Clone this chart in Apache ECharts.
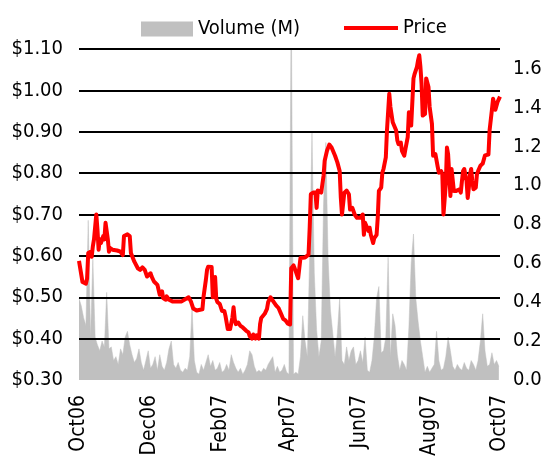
<!DOCTYPE html>
<html>
<head>
<meta charset="utf-8">
<script src="https://cdn.jsdelivr.net/npm/echarts@6/dist/echarts.min.js"></script>
<style>
html,body{margin:0;padding:0;background:#fff;}
#chart{width:548px;height:457px;}
</style>
</head>
<body>
<div id="chart"></div>
<script>
// x axis: days since 1 Oct 2006
var tickDays=[0,61,123,182,243,304,365];
var tickLabels=['Oct06','Dec06','Feb07','Apr07','Jun07','Aug07','Oct07'];

// price [day, $]
var priceSeries=[
    [0,0.588],[3,0.537],[6,0.533],[7,0.545],[8,0.607],[10,0.61],[11,0.598],[12,0.623],[13,0.64],[15,0.70],
    [16,0.664],[17,0.615],[18,0.64],[19,0.631],[21,0.648],[22,0.64],[23,0.68],[25,0.64],[26,0.61],[27,0.619],
    [29,0.615],[33,0.613],[36,0.61],[38,0.602],[39,0.648],[42,0.652],[44,0.648],[45,0.607],[48,0.586],[51,0.57],
    [53,0.566],[55,0.572],[57,0.566],[59,0.55],[60,0.546],[62,0.558],[63,0.55],[65,0.538],[66,0.542],[68,0.53],
    [69,0.526],[70,0.506],[72,0.514],[73,0.498],[75,0.494],[76,0.502],[78,0.494],[81,0.49],[89,0.49],[95,0.50],
    [97,0.49],[99,0.473],[102,0.468],[107,0.471],[108,0.502],[110,0.542],[111,0.566],[112,0.574],[115,0.573],[116,0.50],
    [118,0.549],[119,0.496],[120,0.488],[122,0.484],[124,0.467],[126,0.467],[127,0.455],[129,0.423],[131,0.423],[133,0.451],
    [134,0.476],[135,0.447],[136,0.435],[138,0.439],[140,0.431],[142,0.427],[145,0.419],[147,0.415],[148,0.406],[150,0.40],
    [151,0.41],[153,0.40],[154,0.408],[156,0.40],[157,0.435],[158,0.45],[161,0.46],[163,0.472],[164,0.488],[166,0.50],
    [167,0.50],[168,0.492],[171,0.48],[173,0.474],[175,0.461],[177,0.448],[179,0.444],[181,0.436],[183,0.434],[184,0.57],
    [186,0.577],[187,0.57],[188,0.562],[190,0.546],[192,0.595],[196,0.596],[199,0.603],[200,0.668],[201,0.749],[203,0.753],
    [204,0.749],[205,0.753],[206,0.716],[207,0.758],[210,0.753],[212,0.793],[213,0.83],[215,0.854],[217,0.869],[219,0.862],
    [222,0.842],[224,0.826],[226,0.805],[227,0.74],[228,0.70],[230,0.752],[232,0.758],[234,0.749],[235,0.712],[237,0.716],
    [238,0.72],[239,0.70],[241,0.692],[242,0.696],[244,0.692],[246,0.70],[247,0.651],[248,0.68],[249,0.68],[251,0.66],
    [252,0.668],[253,0.651],[255,0.631],[256,0.643],[258,0.651],[259,0.692],[260,0.757],[262,0.765],[263,0.801],[264,0.81],
    [266,0.838],[267,0.903],[269,0.992],[270,0.96],[272,0.923],[273,0.919],[275,0.903],[276,0.879],[277,0.87],[279,0.874],
    [280,0.854],[282,0.842],[283,0.858],[285,0.887],[286,0.947],[287,0.94],[288,0.915],[290,1.029],[291,1.04],[293,1.057],
    [294,1.073],[295,1.085],[296,1.057],[297,1.016],[298,0.939],[300,0.943],[301,1.029],[303,1.008],[304,0.96],[306,0.919],
    [307,0.842],[308,0.842],[309,0.846],[311,0.815],[312,0.801],[314,0.805],[315,0.797],[316,0.70],[318,0.773],[319,0.862],
    [320,0.846],[321,0.797],[322,0.745],[323,0.81],[325,0.757],[326,0.753],[327,0.757],[330,0.761],[331,0.753],[332,0.781],
    [333,0.805],[334,0.81],[336,0.781],[337,0.74],[338,0.765],[339,0.797],[340,0.81],[341,0.781],[342,0.761],[344,0.765],
    [345,0.797],[346,0.805],[348,0.818],[350,0.823],[352,0.843],[353,0.847],[355,0.845],[356,0.904],[358,0.953],[359,0.98],
    [361,0.953],[362,0.953],[363,0.973],[365,0.985]
];

// volume (M), one value every 2 days
var volStepDays=2;
var volumeVals=[
    0.42,0.38,0.32,0.28,0.82,0.22,0.62,0.22,0.18,0.15,
    0.20,0.17,0.45,0.16,0.17,0.10,0.12,0.08,0.16,0.13,
    0.22,0.25,0.18,0.13,0.09,0.11,0.16,0.09,0.05,0.10,
    0.15,0.06,0.08,0.12,0.05,0.13,0.07,0.05,0.09,0.16,
    0.20,0.08,0.06,0.09,0.05,0.04,0.06,0.05,0.12,0.37,
    0.10,0.04,0.03,0.08,0.05,0.09,0.13,0.07,0.10,0.05,
    0.06,0.09,0.04,0.05,0.08,0.05,0.13,0.09,0.06,0.04,
    0.06,0.03,0.05,0.08,0.15,0.13,0.07,0.04,0.05,0.04,
    0.06,0.05,0.08,0.10,0.12,0.04,0.07,0.04,0.05,0.08,
    0.04,0.03,2.00,0.03,0.04,0.03,0.12,0.33,0.20,0.12,
    0.65,1.27,0.55,0.26,0.12,0.20,0.90,1.22,0.62,0.36,
    0.24,0.12,0.24,0.42,0.10,0.08,0.17,0.10,0.15,0.17,
    0.08,0.10,0.15,0.09,0.22,0.05,0.04,0.10,0.22,0.42,
    0.48,0.14,0.15,0.22,0.63,0.12,0.34,0.28,0.13,0.05,
    0.10,0.08,0.05,0.27,0.60,0.75,0.42,0.30,0.20,0.12,
    0.04,0.07,0.04,0.06,0.08,0.25,0.10,0.05,0.06,0.12,
    0.22,0.15,0.07,0.05,0.08,0.06,0.05,0.09,0.06,0.05,
    0.10,0.08,0.05,0.10,0.20,0.34,0.15,0.07,0.08,0.14,
    0.08,0.10,0.07
];

var font='"DejaVu Sans Condensed","Liberation Sans Narrow",sans-serif';

var myChart=echarts.init(document.getElementById('chart'),null,{renderer:'canvas'});

var volumeData=volumeVals.map(function(v,i){ return [i*volStepDays,v]; });

var option={
    animation:false,
    backgroundColor:'#fff',
    textStyle:{fontFamily:font},
    legend:[
        {
            left:141,top:19,padding:0,
            itemWidth:52,itemHeight:15,
            selectedMode:false,
            data:[{name:'Volume (M)',icon:'rect'}],
            textStyle:{fontFamily:font,fontSize:20,color:'#000'}
        },
        {
            left:344,top:18,padding:0,
            itemWidth:54,itemHeight:4,
            selectedMode:false,
            data:[{name:'Price',icon:'rect'}],
            textStyle:{fontFamily:font,fontSize:20,color:'#000'}
        }
    ],
    grid:{left:79,right:48,top:49,bottom:77,containLabel:false,outerBoundsMode:'none'},
    xAxis:{
        type:'value',
        min:0,max:365,
        axisLine:{show:false},
        axisTick:{show:false},
        splitLine:{show:false},
        axisLabel:{
            customValues:tickDays,
            rotate:90,
            margin:15,
            fontSize:21,
            fontFamily:font,
            color:'#000',
            formatter:function(v){
                var k=tickDays.indexOf(Math.round(v));
                return k>=0?tickLabels[k]:'';
            }
        }
    },
    yAxis:[
        {
            type:'value',
            min:0.3,max:1.1,interval:0.1,
            position:'left',
            axisLine:{show:false},
            axisTick:{show:false},
            splitLine:{show:true,showMinLine:false,lineStyle:{color:'#000',width:2}},
            axisLabel:{
                margin:16,fontSize:20,fontFamily:font,color:'#000',
                formatter:function(v){ return '$'+v.toFixed(2); }
            }
        },
        {
            type:'value',
            min:0,max:1.7,interval:0.2,
            position:'right',
            axisLine:{show:false},
            axisTick:{show:false},
            splitLine:{show:false},
            axisLabel:{
                margin:13,fontSize:20,fontFamily:font,color:'#000',
                showMaxLabel:false,
                formatter:function(v){ return v.toFixed(1); }
            }
        }
    ],
    series:[
        {
            name:'Volume (M)',
            type:'line',
            yAxisIndex:1,
            z:-1,
            data:volumeData,
            symbol:'none',
            color:'#c0c0c0',
            lineStyle:{width:0.5,color:'#c0c0c0'},
            areaStyle:{color:'#c0c0c0',opacity:1},
            clip:true
        },
        {
            name:'Price',
            type:'line',
            yAxisIndex:0,
            z:5,
            data:priceSeries,
            symbol:'none',
            color:'#ff0000',
            lineStyle:{width:4,color:'#ff0000',join:'round'}
        }
    ]
};

myChart.setOption(option);
</script>
</body>
</html>
